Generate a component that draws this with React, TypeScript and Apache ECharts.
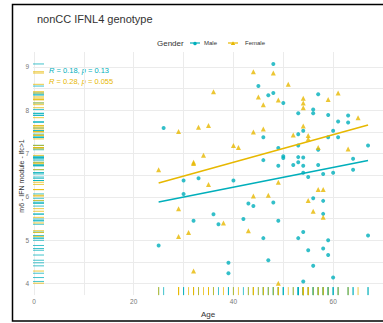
import React, { useEffect, useRef } from "react";
import * as echarts from "echarts";

const TEAL = "#00AFBB";
const GOLD = "#E7B800";

const maleAges = [26, 45, 30, 33, 40, 30, 32, 36, 37, 42, 43, 44, 25, 39, 39, 48, 47, 48, 50, 57, 53, 56, 56, 59, 63, 61, 63, 46, 54, 53, 60, 59, 61, 53, 49, 57, 67, 46, 50, 50, 53, 54, 53, 52, 49, 54, 57, 64, 64, 60, 58, 54, 55, 48, 56, 58, 58, 49, 46, 53, 54, 59, 67, 55, 58, 59, 47, 56, 60, 54];
const maleValues = [7.59, 8.56, 6.38, 6.43, 6.38, 6.07, 5.45, 5.6, 5.37, 5.49, 5.85, 5.79, 4.88, 4.48, 4.24, 9.07, 8.35, 8.4, 8.17, 8.37, 7.93, 8.02, 7.93, 7.89, 7.88, 7.74, 7.72, 7.38, 7.53, 7.45, 7.53, 7.38, 7.38, 7.19, 7.13, 7.09, 7.19, 6.85, 6.94, 6.9, 6.92, 6.91, 6.8, 6.74, 6.72, 6.72, 6.74, 6.88, 6.63, 6.56, 6.53, 6.56, 6.46, 5.87, 5.97, 5.91, 5.61, 5.45, 5.05, 5.05, 5.19, 5.0, 5.11, 4.77, 4.81, 4.66, 4.54, 4.41, 4.14, 4.05];
const femaleAges = [29, 33, 35, 36, 44, 45, 44, 40, 41, 34, 32, 32, 25, 35, 29, 38, 43, 44, 29, 31, 32, 48, 51, 49, 46, 54, 54, 54, 59, 61, 65, 46, 54, 52, 55, 55, 57, 63, 49, 47, 57, 58, 55, 56, 58, 49];
const femaleValues = [7.51, 7.61, 7.65, 8.43, 8.89, 8.31, 7.5, 7.19, 7.14, 6.96, 6.77, 6.8, 6.63, 6.29, 5.73, 5.4, 5.22, 6.02, 5.09, 5.18, 4.29, 8.86, 8.6, 8.24, 8.13, 8.28, 8.17, 8.06, 8.25, 8.4, 7.83, 7.57, 7.64, 7.43, 7.42, 7.34, 7.14, 7.11, 6.34, 6.04, 6.17, 6.17, 5.92, 5.67, 5.53, 4.01];

const fitAges = [25, 67];
const maleFit = [5.885, 6.84];
const femaleFit = [6.32, 7.66];

const xGridValues = [0, 10, 20, 30, 40, 50, 60];
const xTickLabels = [0, 20, 40, 60];
const yGridValues = [4, 4.5, 5, 5.5, 6, 6.5, 7, 7.5, 8, 8.5, 9];
const yTickLabels = [4, 5, 6, 7, 8, 9];

const maleStats = { r: "0.18", p: "0.13" };
const femaleStats = { r: "0.28", p: "0.055" };

const FONT = "Liberation Sans, Arial, sans-serif";

export default function App() {
  const ref = useRef<HTMLDivElement>(null);

  useEffect(() => {
    if (!ref.current) return;
    const chart = echarts.init(ref.current, null, { renderer: "svg" });
    const malePts = maleAges.map((a, i) => [a, maleValues[i]]);
    const femalePts = femaleAges.map((a, i) => [a, femaleValues[i]]);

    const rug = (color: string) => (params: any, api: any) => {
      const p = api.coord([api.value(0), api.value(1)]);
      const cs = params.coordSys;
      const bottom = cs.y + cs.height;
      const st = { stroke: color, lineWidth: 1, opacity: 0.75 };
      return {
        type: "group",
        children: [
          { type: "line", shape: { x1: p[0], y1: bottom, x2: p[0], y2: bottom - 8 }, style: st },
          { type: "line", shape: { x1: cs.x, y1: p[1], x2: cs.x + 11, y2: p[1] }, style: st },
        ],
      };
    };

    chart.setOption({
      animation: false,
      title: {
        text: "nonCC IFNL4 genotype",
        left: 32,
        top: 8,
        textStyle: { fontSize: 11, fontWeight: "normal", color: "#333", fontFamily: FONT },
      },
      grid: { left: 33, right: -4, top: 52, bottom: 23, containLabel: false },
      xAxis: {
        type: "value",
        min: -0.2,
        max: 70,
        name: "Age",
        nameLocation: "middle",
        nameGap: 10,
        nameTextStyle: { fontSize: 8, color: "#333", fontFamily: FONT },
        axisLine: { show: false },
        axisTick: { show: false, customValues: xGridValues },
        axisLabel: { customValues: xTickLabels, fontSize: 6.5, color: "#777", margin: 3, fontFamily: FONT },
        splitLine: { show: true, lineStyle: { color: "#ebebeb", width: 1 } },
      },
      yAxis: {
        type: "value",
        min: 3.735,
        max: 9.346,
        axisLine: { show: false },
        axisTick: { show: false, customValues: yGridValues },
        axisLabel: { customValues: yTickLabels, fontSize: 6.5, color: "#777", margin: 4, fontFamily: FONT },
        splitLine: { show: true, lineStyle: { color: "#ebebeb", width: 1 } },
      },
      series: [
        { type: "custom", name: "MaleRug", data: malePts, renderItem: rug(TEAL), z: 1, silent: true },
        { type: "custom", name: "FemaleRug", data: femalePts, renderItem: rug(GOLD), z: 1, silent: true },
        {
          type: "scatter",
          name: "Male",
          data: malePts,
          symbol: "circle",
          symbolSize: 4,
          itemStyle: { color: TEAL },
          z: 3,
        },
        {
          type: "scatter",
          name: "Female",
          data: femalePts,
          symbol: "triangle",
          symbolSize: 5,
          itemStyle: { color: GOLD },
          z: 3,
        },
        {
          type: "line",
          name: "MaleFit",
          data: fitAges.map((a, i) => [a, maleFit[i]]),
          symbol: "none",
          lineStyle: { color: TEAL, width: 1.6 },
          z: 4,
        },
        {
          type: "line",
          name: "FemaleFit",
          data: fitAges.map((a, i) => [a, femaleFit[i]]),
          symbol: "none",
          lineStyle: { color: GOLD, width: 1.6 },
          z: 4,
        },
      ],
      graphic: [
        {
          type: "rect",
          shape: { x: 12.5, y: 4.5, width: 400, height: 316.5 },
          style: { fill: "none", stroke: "#000", lineWidth: 1.5 },
          silent: true,
        },
        {
          type: "text",
          x: 21,
          y: 176,
          rotation: Math.PI / 2,
          style: {
            text: "m6 - IFN module - lfc>1",
            fontSize: 7,
            fill: "#333",
            fontFamily: FONT,
            align: "center",
            verticalAlign: "middle",
          },
        },
        {
          type: "text",
          x: 157,
          y: 43,
          style: { text: "Gender", fontSize: 8, fill: "#333", fontFamily: FONT, verticalAlign: "middle" },
        },
        { type: "line", shape: { x1: 190, y1: 43, x2: 200, y2: 43 }, style: { stroke: TEAL, lineWidth: 1.2 } },
        { type: "circle", shape: { cx: 195, cy: 43.5, r: 1.8 }, style: { fill: TEAL } },
        {
          type: "text",
          x: 204,
          y: 43,
          style: { text: "Male", fontSize: 6, fill: "#333", fontFamily: FONT, verticalAlign: "middle" },
        },
        { type: "line", shape: { x1: 228, y1: 43, x2: 238, y2: 43 }, style: { stroke: GOLD, lineWidth: 1.2 } },
        {
          type: "polygon",
          shape: { points: [[233, 41.2], [235.2, 45], [230.8, 45]] },
          style: { fill: GOLD },
        },
        {
          type: "text",
          x: 245,
          y: 43,
          style: { text: "Female", fontSize: 6, fill: "#333", fontFamily: FONT, verticalAlign: "middle" },
        },
        {
          type: "text",
          x: 49,
          y: 70.7,
          style: {
            text: `{i|R} = ${maleStats.r}, {i|p} = ${maleStats.p}`,
            fontSize: 7.5,
            fill: TEAL,
            fontFamily: FONT,
            verticalAlign: "middle",
            rich: { i: { fontStyle: "italic", fontSize: 7.5, fill: TEAL, fontFamily: FONT } },
          },
        },
        {
          type: "text",
          x: 49,
          y: 81.7,
          style: {
            text: `{i|R} = ${femaleStats.r}, {i|p} = ${femaleStats.p}`,
            fontSize: 7.5,
            fill: GOLD,
            fontFamily: FONT,
            verticalAlign: "middle",
            rich: { i: { fontStyle: "italic", fontSize: 7.5, fill: GOLD, fontFamily: FONT } },
          },
        },
      ],
    });
    return () => chart.dispose();
  }, []);

  return (
    <div
      ref={ref}
      style={{ position: "fixed", left: 0, top: 0, width: 383, height: 323, background: "#fff" }}
    />
  );
}
